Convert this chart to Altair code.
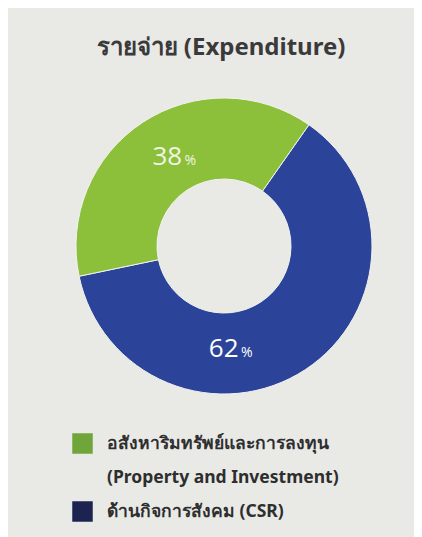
import altair as alt
import pandas as pd

categories = ["ด้านกิจการสังคม (CSR)", "อสังหาริมทรัพย์และการลงทุน"]
values = [62, 38]
order = [1, 2]
colors = ["#2b4499", "#8cbf3a"]

legend_entries = ["อสังหาริมทรัพย์และการลงทุน", "(Property and Investment)", "ด้านกิจการสังคม (CSR)"]
legend_colors = ["#6fa53a", "rgba(0,0,0,0)", "#1c2350"]

df = pd.DataFrame({"cat": categories, "value": values, "order": order})
leg_df = pd.DataFrame({"entry": legend_entries})

START = 0.611
rng = [START, START + 6.2832]

arc = alt.Chart(df).mark_arc(outerRadius=148, innerRadius=67,
                             stroke="#f2f2f0", strokeWidth=1).encode(
    theta=alt.Theta("value:Q", stack=True, scale=alt.Scale(range=rng)),
    order=alt.Order("order:Q"),
    color=alt.Color("cat:N", scale=alt.Scale(domain=categories, range=colors),
                    legend=None),
)

base = alt.Chart(df).transform_window(
    cum="sum(value)", sort=[alt.SortField("order")], frame=[None, 0]
).transform_calculate(mid="datum.cum - datum.value / 2", label="'' + datum.value")

theta_lab = alt.Theta("mid:Q", stack=None,
                      scale=alt.Scale(domain=[0, 100], range=rng))


def label(o, size, color, dx, dy, pct=False):
    m = base.transform_filter(alt.datum.order == o).mark_text(
        radius=103, fontSize=size, font="Open Sans", color=color, dx=dx, dy=dy)
    return m.encode(theta=theta_lab,
                    text=alt.value("%") if pct else alt.Text("label:N"))


num_green = label(2, 26, "#f1f5e2", 0, -3)
pct_green = label(2, 14, "#f1f5e2", 23, 1, True)
num_blue = label(1, 26, "#ffffff", -57, 17)
pct_blue = label(1, 14, "#ffffff", -34, 21, True)

leg = alt.Chart(leg_df).mark_square(size=0, filled=True, opacity=1).encode(
    color=alt.Color("entry:N",
                    scale=alt.Scale(domain=legend_entries, range=legend_colors),
                    sort=legend_entries,
                    legend=alt.Legend(
                        title=None, orient="none", legendX=38, legendY=365,
                        symbolType="square", symbolSize=420, symbolOpacity=1,
                        symbolStrokeWidth=0,
                        labelFont="Noto Sans", labelFontSize=17.5,
                        labelColor="#2e2e2e", labelFontWeight="bold",
                        labelLimit=400, rowPadding=13, labelOffset=14,
                    )),
)

chart = alt.layer(arc, num_green, pct_green, num_blue, pct_blue, leg).resolve_scale(
    color="independent", theta="independent"
).properties(
    width=380, height=356,
    padding={"left": 26, "top": 60, "right": 0, "bottom": 113},
    autosize=alt.AutoSizeParams(type="none"),
    background="#e9e9e6",
    title=alt.TitleParams("รายจ่าย (Expenditure)", font="Noto Sans",
                          fontSize=24, fontWeight="bold", color="#3a3a3a",
                          offset=8, dx=-3),
).configure_view(stroke=None)

chart.save("out.html", embed_options={"renderer": "svg", "actions": False})
